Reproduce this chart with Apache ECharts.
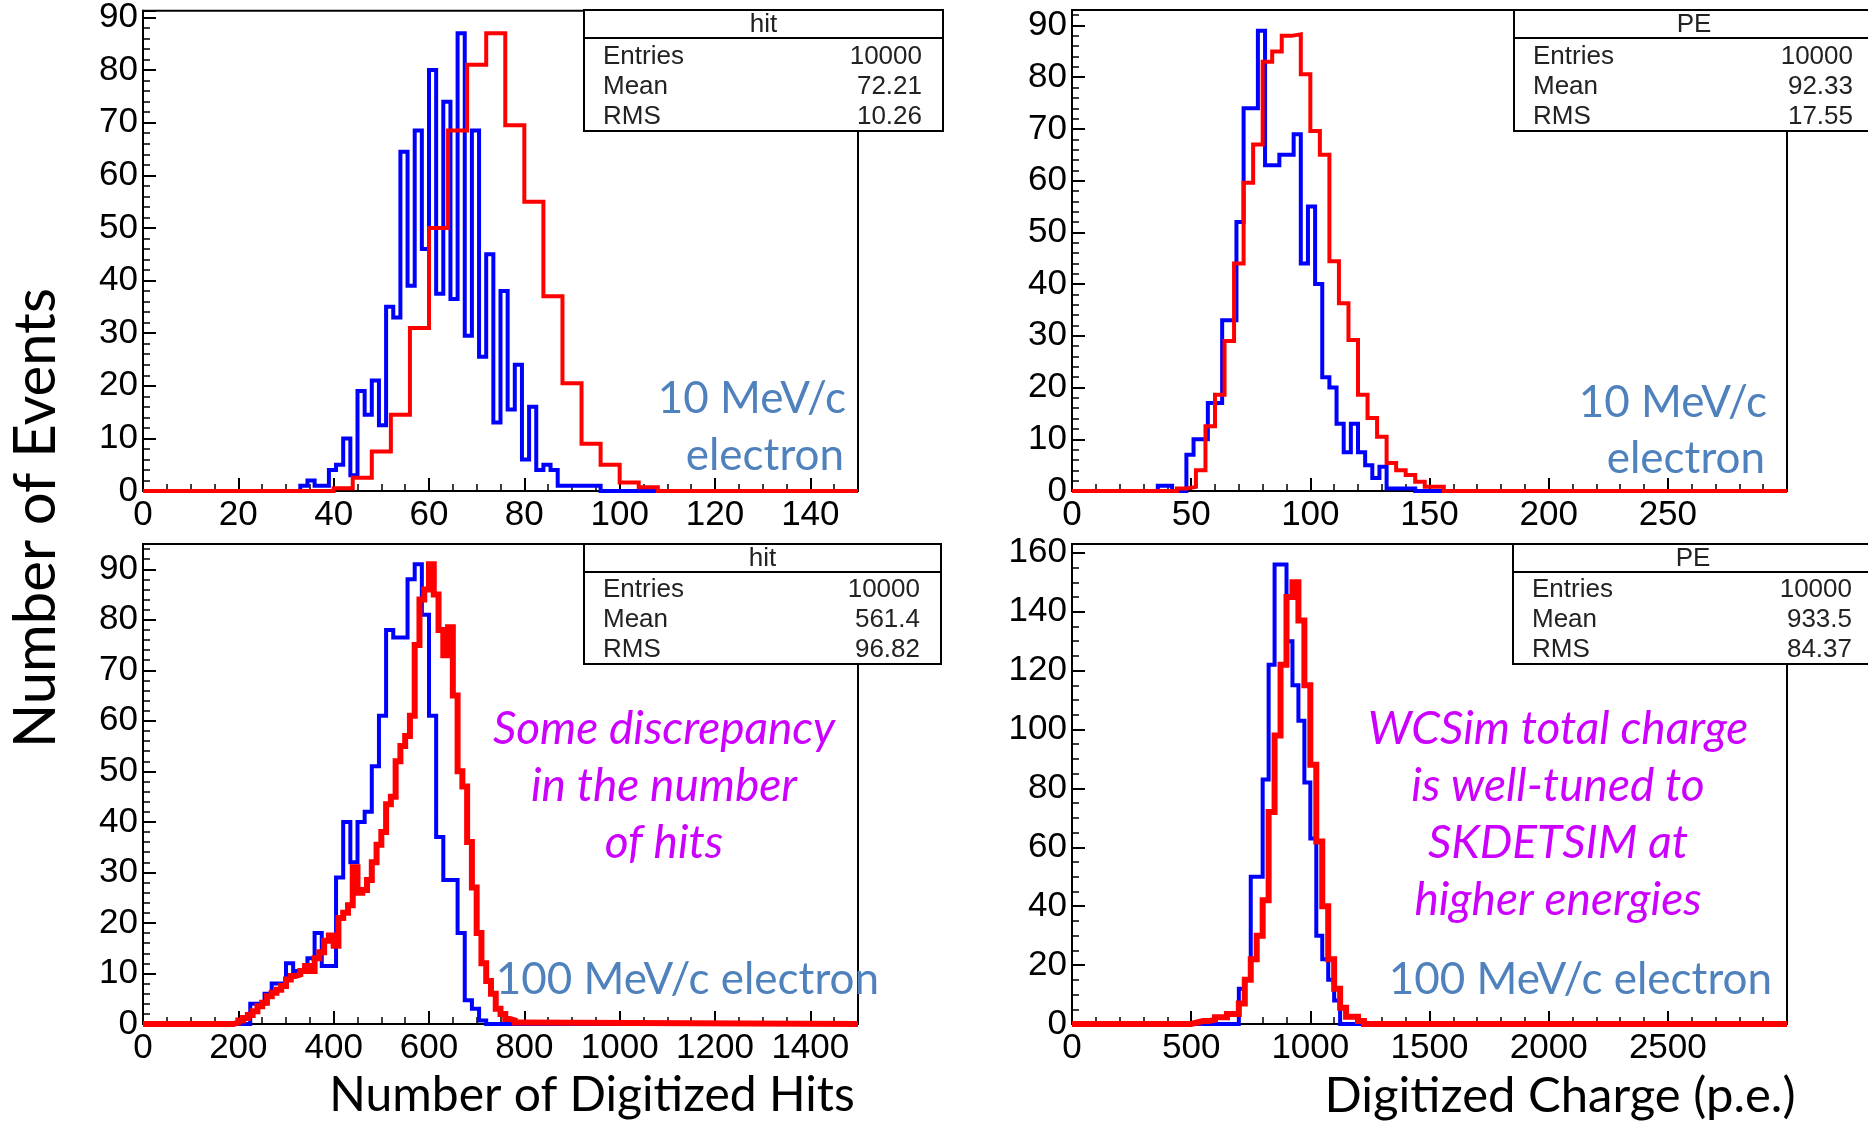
<!DOCTYPE html>
<html><head><meta charset="utf-8">
<script src="https://cdn.jsdelivr.net/npm/echarts@6/dist/echarts.min.js"></script>
<style>html,body{margin:0;padding:0;background:#fff;} #chart{width:1868px;height:1122px;}</style>
</head><body><div id="chart"></div>
<script>
// ---------- DATA ----------
// Panel 1: Number of digitized hits, 10 MeV/c electron
const p1BlueStart = 33, p1BlueWidth = 1.5;
const p1Blue = [1, 2, 1, 1, 4, 5, 10, 3, 19, 14.5, 21, 12.5, 35, 33, 64.5, 39, 68.5, 46, 80, 37.5, 74, 36.5, 87, 29.5, 68.5, 25.5, 45, 13, 38, 15.5, 24, 6, 16, 4, 5, 4, 1, 1, 1, 1, 1, 1];
const p1RedStart = 40, p1RedWidth = 4;
const p1Red = [0.5, 2.5, 7.5, 14.5, 31, 50, 68.5, 81, 87, 69.5, 55, 37, 20.5, 9, 5, 1.6, 0.7];

// Panel 2: Digitized charge, 10 MeV/c electron
const p2BlueStart = 36, p2BlueWidth = 3;
const p2Blue = [1, 1, 0, 0, 7, 10, 10, 17, 17, 33, 33, 52, 74, 74, 89, 63, 63, 65, 65, 69, 44, 55, 40, 22, 20, 13, 7.5, 13, 7.5, 5, 2.5, 4.7, 0.5, 0.5, 0.5, 0.5];
const p2RedStart = 44, p2RedWidth = 4;
const p2Red = [0.5, 0.8, 4, 12.5, 18.6, 29, 44, 59.6, 67, 83, 85, 88, 88.3, 80.6, 69.6, 65, 44.4, 36.3, 29.2, 18.6, 14.1, 10.5, 5.4, 4, 3.1, 1.8, 0.8, 0.8];

// Panel 3: Number of digitized hits, 100 MeV/c electron
const p3BlueStart = 225, p3BlueWidth = 15;
const p3Blue = [4, 4, 6, 8, 8, 12, 10.5, 10.5, 13, 18, 11.5, 11.5, 29, 40, 32, 40, 42, 51, 61, 78, 76.5, 76.5, 88, 91, 81, 61, 37, 28.5, 28.5, 18, 4.7, 3, 0.7];
const p3RedStart = 190, p3RedWidth = 10;
const p3Red = [0.3, 0.7, 1.2, 1.8, 2.5, 3.5, 4.2, 5.5, 6.2, 6.8, 7.5, 8.8, 9.5, 9.8, 10.5, 11.5, 10.5, 13, 14.2, 16.5, 17.5, 15.5, 21, 22, 23.5, 31, 26, 26.5, 28.5, 32, 35.5, 38, 43.5, 45, 52, 55, 57, 61, 75, 84, 86, 91, 85, 78, 73, 78.5, 65, 50, 47, 36, 27, 18, 12, 8.5, 6, 3, 2, 1, 0.7, 0.3];

// Panel 4: Digitized charge, 100 MeV/c electron
const p4BlueStart = 700, p4BlueWidth = 25;
const p4Blue = [12, 15, 50, 50, 83, 122, 156, 156, 130, 115, 103, 82, 63, 30, 22, 15, 8];
const p4RedStart = 500, p4RedWidth = 25;
const p4Red = [0.5, 1, 1, 1.5, 2.3, 2.3, 3.4, 3.4, 7, 15, 22, 30, 42, 72, 98, 122, 145, 150, 137, 115, 88, 62, 40, 22, 12, 5.5, 2.5, 2.5, 1];

// Statistics boxes
const statLabels = ['Entries', 'Mean', 'RMS'];
const p1StatTitle = 'hit', p1Stats = ['10000', '72.21', '10.26'];
const p2StatTitle = 'PE',  p2Stats = ['10000', '92.33', '17.55'];
const p3StatTitle = 'hit', p3Stats = ['10000', '561.4', '96.82'];
const p4StatTitle = 'PE',  p4Stats = ['10000', '933.5', '84.37'];

// Axis ranges
const xMax = [150, 300, 1500, 3000];
const xInterval = [20, 50, 200, 500];
const xMinor = [4, 5, 4, 5];
const yMax = [91.3, 93, 95, 163];
const yInterval = [10, 10, 10, 20];
const yMinor = [5, 5, 5, 4];

// Texts
const yTitle = 'Number of Events';
const xTitleLeft = 'Number of Digitized Hits';
const xTitleRight = 'Digitized Charge (p.e.)';
const energyLow = ['10 MeV/c', 'electron'];
const energyHigh = '100 MeV/c electron';
const noteLeft = ['Some discrepancy', 'in the number', 'of hits'];
const noteRight = ['WCSim total charge', 'is well-tuned to', 'SKDETSIM at', 'higher energies'];

// ---------- BUILD ----------
function hist(start, width, counts, xmax) {
  const d = [[0, 0]];
  counts.forEach((c, i) => d.push([start + i * width, c]));
  d.push([start + counts.length * width, 0]);
  d.push([xmax, 0]);
  return d;
}
const grids = [
  {left: 143, top: 10, width: 715, height: 481},
  {left: 1072, top: 10, width: 715, height: 481},
  {left: 143, top: 544, width: 715, height: 480},
  {left: 1072, top: 544, width: 715, height: 480}
].map(g => Object.assign({show: true, borderColor: '#000', borderWidth: 2, backgroundColor: 'transparent'}, g));

const labelFont = {color: '#000', fontFamily: 'Liberation Sans', fontSize: 35, formatter: v => String(v)};
const xAxes = grids.map((g, i) => ({
  gridIndex: i, type: 'value', min: 0, max: xMax[i], interval: xInterval[i],
  axisLine: {show: true, onZero: false, lineStyle: {color: '#000', width: 2}},
  axisTick: {show: true, inside: true, length: 13, lineStyle: {color: '#000', width: 2}},
  minorTick: {show: true, splitNumber: xMinor[i], length: 7, lineStyle: {color: '#000', width: 1.5}},
  splitLine: {show: false},
  axisLabel: Object.assign({margin: 7, showMaxLabel: false}, labelFont)
}));
const yAxes = grids.map((g, i) => ({
  gridIndex: i, type: 'value', min: 0, max: yMax[i], interval: yInterval[i],
  axisLine: {show: true, onZero: false, lineStyle: {color: '#000', width: 2}},
  axisTick: {show: true, inside: true, length: 13, lineStyle: {color: '#000', width: 2}},
  minorTick: {show: true, splitNumber: yMinor[i], length: 7, lineStyle: {color: '#000', width: 1.5}},
  splitLine: {show: false},
  axisLabel: Object.assign({margin: 5, showMaxLabel: false}, labelFont)
}));

function histSeries(idx, data, color, width, z) {
  return {type: 'line', xAxisIndex: idx, yAxisIndex: idx, step: 'end', data: data,
    symbol: 'none', showSymbol: false, clip: true, z: z, animation: false,
    lineStyle: {color: color, width: width, join: 'miter'}};
}
const series = [
  histSeries(0, hist(p1BlueStart, p1BlueWidth, p1Blue, xMax[0]), '#0000ff', 4, 3),
  histSeries(0, hist(p1RedStart, p1RedWidth, p1Red, xMax[0]), '#ff0000', 4, 4),
  histSeries(1, hist(p2BlueStart, p2BlueWidth, p2Blue, xMax[1]), '#0000ff', 4, 3),
  histSeries(1, hist(p2RedStart, p2RedWidth, p2Red, xMax[1]), '#ff0000', 4, 4),
  histSeries(2, hist(p3BlueStart, p3BlueWidth, p3Blue, xMax[2]), '#0000ff', 4, 3),
  histSeries(2, hist(p3RedStart, p3RedWidth, p3Red, xMax[2]), '#ff0000', 6, 4),
  histSeries(3, hist(p4BlueStart, p4BlueWidth, p4Blue, xMax[3]), '#0000ff', 4, 3),
  histSeries(3, hist(p4RedStart, p4RedWidth, p4Red, xMax[3]), '#ff0000', 6, 4)
];

function txt(x, y, text, font, fill, align, valign, extra) {
  return Object.assign({type: 'text', x: x, y: y, z: 100, silent: true,
    style: {text: text, font: font, fill: fill, align: align, verticalAlign: valign,
            textAlign: align, textVerticalAlign: valign}}, extra || {});
}
function statBox(x, y, w, h, title, values, offs) {
  const els = [];
  const f = '26px "Liberation Sans"';
  els.push({type: 'rect', z: 99, silent: true, shape: {x: x, y: y, width: w, height: h},
            style: {fill: '#fff', stroke: '#000', lineWidth: 2}});
  els.push({type: 'line', z: 100, silent: true, shape: {x1: x, y1: y + 28, x2: x + w, y2: y + 28},
            style: {stroke: '#000', lineWidth: 2}});
  els.push(txt(x + w / 2, y + 15, title, f, '#222', 'center', 'middle'));
  statLabels.forEach((s, i) => {
    els.push(txt(x + 19, y + offs[i], s, f, '#222', 'left', 'middle'));
    els.push(txt(x + w - 21, y + offs[i], values[i], f, '#222', 'right', 'middle'));
  });
  return els;
}

const blueTxt = '#4f81bd', magTxt = '#cc00ff';
const annFont = '44px Lato';
const noteFont = 'italic 46px Lato';
let graphics = [];
graphics = graphics.concat(statBox(584, 10, 359, 121, p1StatTitle, p1Stats, [47, 77, 107]));
graphics = graphics.concat(statBox(1514, 10, 360, 121, p2StatTitle, p2Stats, [47, 77, 107]));
graphics = graphics.concat(statBox(584, 544, 357, 120, p3StatTitle, p3Stats, [46, 76, 106]));
graphics = graphics.concat(statBox(1513, 544, 360, 120, p4StatTitle, p4Stats, [46, 76, 106]));

graphics.push(txt(846, 399, energyLow[0], annFont, blueTxt, 'right', 'middle'));
graphics.push(txt(844, 456, energyLow[1], annFont, blueTxt, 'right', 'middle'));
graphics.push(txt(1767, 403, energyLow[0], annFont, blueTxt, 'right', 'middle'));
graphics.push(txt(1765, 459, energyLow[1], annFont, blueTxt, 'right', 'middle'));
graphics.push(txt(879, 980, energyHigh, annFont, blueTxt, 'right', 'middle'));
graphics.push(txt(1772, 980, energyHigh, annFont, blueTxt, 'right', 'middle'));
noteLeft.forEach((s, i) => graphics.push(txt(664, 729 + i * 57, s, noteFont, magTxt, 'center', 'middle')));
noteRight.forEach((s, i) => graphics.push(txt(1558, 729 + i * 57, s, noteFont, magTxt, 'center', 'middle')));

graphics.push(txt(36, 518, yTitle, '58px Lato', '#000', 'center', 'middle', {rotation: Math.PI / 2}));
graphics.push(txt(592, 1096, xTitleLeft, '48px Lato', '#000', 'center', 'middle'));
graphics.push(txt(1560, 1096, xTitleRight, '49px Lato', '#000', 'center', 'middle'));

const chart = echarts.init(document.getElementById('chart'), null, {renderer: 'canvas'});
chart.setOption({
  backgroundColor: '#fff',
  animation: false,
  grid: grids,
  xAxis: xAxes,
  yAxis: yAxes,
  series: series,
  graphic: {elements: graphics}
});
</script>
</body></html>
